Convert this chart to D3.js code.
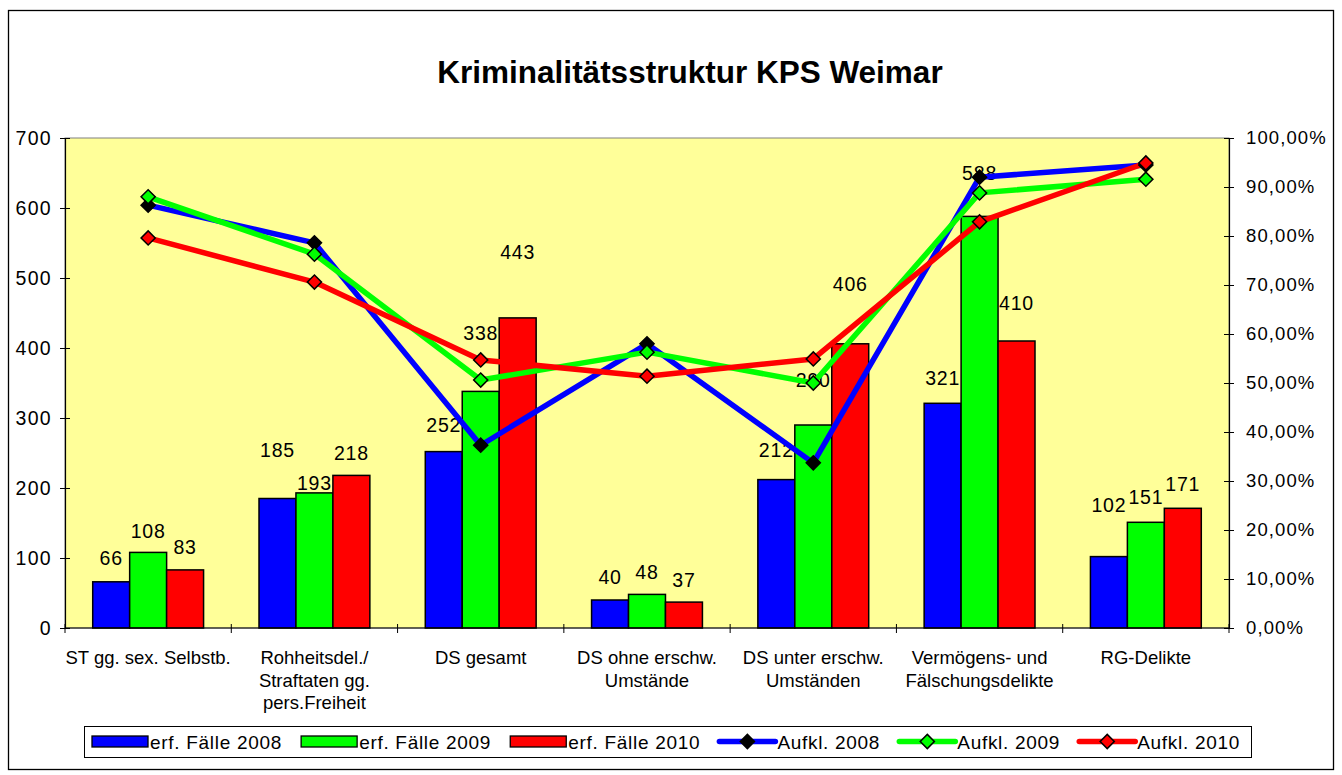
<!DOCTYPE html>
<html>
<head>
<meta charset="utf-8">
<script src="https://cdn.jsdelivr.net/npm/d3@7"></script>
<style>
  html, body { margin: 0; padding: 0; background: #ffffff; }
  svg { display: block; font-family: "Liberation Sans", Arial, sans-serif; }
</style>
</head>
<body>
<svg id="chart" width="1342" height="775"></svg>
<script>
// ---------------- data ----------------
const title = "Kriminalitätsstruktur KPS Weimar";
const categories = [
  ["ST gg. sex. Selbstb."],
  ["Rohheitsdel./", "Straftaten gg.", "pers.Freiheit"],
  ["DS gesamt"],
  ["DS ohne erschw.", "Umstände"],
  ["DS unter erschw.", "Umständen"],
  ["Vermögens- und", "Fälschungsdelikte"],
  ["RG-Delikte"]
];
const barSeriesNames = ["erf. Fälle 2008", "erf. Fälle 2009", "erf. Fälle 2010"];
const faelle2008 = [66, 185, 252, 40, 212, 321, 102];
const faelle2009 = [108, 193, 338, 48, 290, 588, 151];
const faelle2010 = [83, 218, 443, 37, 406, 410, 171];
// data labels sit where the original chart put them (in axis units)
const labelAnchor2008 = [100, 254, 290, 73, 254, 357, 176];
const labelAnchor2009 = [139, 207, 421, 80, 354, 650, 187];
const labelAnchor2010 = [116, 250, 537, 69, 491, 464, 206];

const lineSeriesNames = ["Aufkl. 2008", "Aufkl. 2009", "Aufkl. 2010"];
const aufkl2008 = [0.863, 0.786, 0.373, 0.580, 0.337, 0.920, 0.945];
const aufkl2009 = [0.880, 0.763, 0.506, 0.563, 0.500, 0.888, 0.916];
const aufkl2010 = [0.796, 0.706, 0.547, 0.514, 0.549, 0.829, 0.949];

const leftTicks = [0, 100, 200, 300, 400, 500, 600, 700];
const rightTicks = [0, 0.1, 0.2, 0.3, 0.4, 0.5, 0.6, 0.7, 0.8, 0.9, 1.0];

// ---------------- styles ----------------
const barColors = ["#0000FF", "#00FF00", "#FF0000"];
const lineColors = ["#0000FF", "#00FF00", "#FF0000"];
const markerFills = ["#000000", "#00FF00", "#FF0000"];

const svg = d3.select("#chart");
const plot = { left: 65, right: 1229, top: 138, bottom: 628 };

// outer frame
svg.append("rect").attr("x", 8.5).attr("y", 10.5).attr("width", 1325).attr("height", 759)
  .attr("fill", "#fff").attr("stroke", "#000").attr("stroke-width", 1.3);

// title
svg.append("text").attr("x", 690).attr("y", 83).attr("text-anchor", "middle")
  .attr("font-size", 31.5).attr("font-weight", "bold").attr("fill", "#000").text(title);

// scales
const catIdx = categories.map((c, i) => i);
const x = d3.scaleBand().domain(catIdx).range([plot.left, plot.right]).paddingInner(0).paddingOuter(0);
const xSub = d3.scaleBand().domain([0, 1, 2]).range([0, x.bandwidth()]).paddingInner(0).paddingOuter(0.75);
const yL = d3.scaleLinear().domain([0, 700]).range([plot.bottom, plot.top]);
const yR = d3.scaleLinear().domain([0, 1]).range([plot.bottom, plot.top]);

// plot background
svg.append("rect").attr("x", plot.left).attr("y", plot.top)
  .attr("width", plot.right - plot.left).attr("height", plot.bottom - plot.top)
  .attr("fill", "#FFFF99").attr("stroke", "#808080").attr("stroke-width", 1);

// bars
const barData = [faelle2008, faelle2009, faelle2010];
const labelData = [labelAnchor2008, labelAnchor2009, labelAnchor2010];
const gBars = svg.append("g");
barData.forEach((vals, s) => {
  gBars.selectAll(null).data(vals).enter().append("rect")
    .attr("x", (d, i) => x(i) + xSub(s))
    .attr("y", d => yL(d))
    .attr("width", xSub.bandwidth())
    .attr("height", d => yL(0) - yL(d))
    .attr("fill", barColors[s]).attr("stroke", "#000").attr("stroke-width", 1.5);
});

// axes
const fmtPct = d => d3.format(".2%")(d).replace(".", ",");
const axL = d3.axisLeft(yL).tickValues(leftTicks).tickSizeInner(5).tickSizeOuter(0).tickPadding(8).tickFormat(d3.format("d"));
const gL = svg.append("g").attr("transform", `translate(${plot.left},0)`).call(axL);
const axR = d3.axisRight(yR).tickValues(rightTicks).tickSizeInner(5).tickSizeOuter(0).tickPadding(12).tickFormat(fmtPct);
const gR = svg.append("g").attr("transform", `translate(${plot.right},0)`).call(axR);
[gL, gR].forEach(g => {
  g.select(".domain").attr("stroke", "#000").attr("stroke-width", 1.2);
  g.selectAll(".tick line").attr("stroke", "#000").attr("stroke-width", 1);
  g.selectAll(".tick text").attr("fill", "#000")
    .attr("font-family", "Liberation Sans, Arial, sans-serif");
});
gL.selectAll(".tick text").attr("font-size", 19.5).attr("letter-spacing", 1.3);
gR.selectAll(".tick text").attr("font-size", 18.5).attr("letter-spacing", 1.1);
gL.selectAll(".tick line").attr("x1", 5);
gR.selectAll(".tick line").attr("x1", -5);

// x axis
svg.append("line").attr("x1", plot.left).attr("x2", plot.right).attr("y1", plot.bottom).attr("y2", plot.bottom)
  .attr("stroke", "#000").attr("stroke-width", 1.2);
const boundaries = catIdx.map(i => x(i)).concat([plot.right]);
svg.selectAll(null).data(boundaries).enter().append("line")
  .attr("x1", d => d).attr("x2", d => d).attr("y1", plot.bottom - 4).attr("y2", plot.bottom + 5)
  .attr("stroke", "#000").attr("stroke-width", 1);

// category labels
const gCat = svg.append("g");
categories.forEach((lines, i) => {
  const t = gCat.append("text").attr("text-anchor", "middle").attr("font-size", 18.5).attr("fill", "#000");
  lines.forEach((ln, k) => {
    t.append("tspan").attr("x", x(i) + x.bandwidth() / 2).attr("y", 664 + k * 22.5).text(ln);
  });
});

// bar value labels
const gLab = svg.append("g");
barData.forEach((vals, s) => {
  gLab.selectAll(null).data(vals).enter().append("text")
    .attr("x", (d, i) => x(i) + xSub(s) + xSub.bandwidth() / 2)
    .attr("y", (d, i) => yL(labelData[s][i]))
    .attr("dy", "0.35em")
    .attr("text-anchor", "middle").attr("font-size", 19.5).attr("letter-spacing", 0.8)
    .attr("fill", "#000").text(d => d);
});

// lines
const lineData = [aufkl2008, aufkl2009, aufkl2010];
const lineGen = d3.line().x((d, i) => x(i) + x.bandwidth() / 2).y(d => yR(d));
const diamond = d3.symbol(d3.symbolSquare, 100);
lineData.forEach((vals, s) => {
  svg.append("path").datum(vals).attr("d", lineGen).attr("fill", "none")
    .attr("stroke", lineColors[s]).attr("stroke-width", 5.5).attr("stroke-linejoin", "round");
});
lineData.forEach((vals, s) => {
  svg.selectAll(null).data(vals).enter().append("path")
    .attr("d", diamond)
    .attr("transform", (d, i) => `translate(${x(i) + x.bandwidth() / 2},${yR(d)}) rotate(45)`)
    .attr("fill", markerFills[s]).attr("stroke", "#000").attr("stroke-width", 1.5);
});

// legend
const leg = { x: 84, y: 726, w: 1167, h: 31 };
svg.append("rect").attr("x", leg.x + 0.5).attr("y", leg.y + 0.5).attr("width", leg.w).attr("height", leg.h)
  .attr("fill", "#fff").attr("stroke", "#000").attr("stroke-width", 1);
const items = barSeriesNames.map((n, i) => ({ name: n, type: "bar", i }))
  .concat(lineSeriesNames.map((n, i) => ({ name: n, type: "line", i })));
const gLeg = svg.append("g");
const symW = 56, txtGap = 2;
const texts = items.map(it => gLeg.append("text").attr("font-size", 19).attr("letter-spacing", 0.7).attr("fill", "#000")
    .attr("y", leg.y + leg.h / 2 + 1).attr("dy", "0.35em").text(it.name));
const widths = texts.map(t => t.node().getComputedTextLength());
const startX = 92, endX = 1240;
const total = d3.sum(widths) + items.length * (symW + txtGap);
const gap = (endX - startX - total) / (items.length - 1);
let cx = startX;
items.forEach((it, k) => {
  const cy = leg.y + leg.h / 2;
  if (it.type === "bar") {
    gLeg.append("rect").attr("x", cx).attr("y", cy - 5.5).attr("width", symW).attr("height", 11)
      .attr("fill", barColors[it.i]).attr("stroke", "#000").attr("stroke-width", 1.3);
  } else {
    gLeg.append("line").attr("x1", cx).attr("x2", cx + symW).attr("y1", cy).attr("y2", cy)
      .attr("stroke", lineColors[it.i]).attr("stroke-width", 5.5).attr("stroke-linecap", "round");
    gLeg.append("path").attr("d", diamond)
      .attr("transform", `translate(${cx + symW / 2},${cy}) rotate(45)`)
      .attr("fill", markerFills[it.i]).attr("stroke", "#000").attr("stroke-width", 1.5);
  }
  texts[k].attr("x", cx + symW + txtGap);
  cx += symW + txtGap + widths[k] + gap;
});
</script>
</body>
</html>
